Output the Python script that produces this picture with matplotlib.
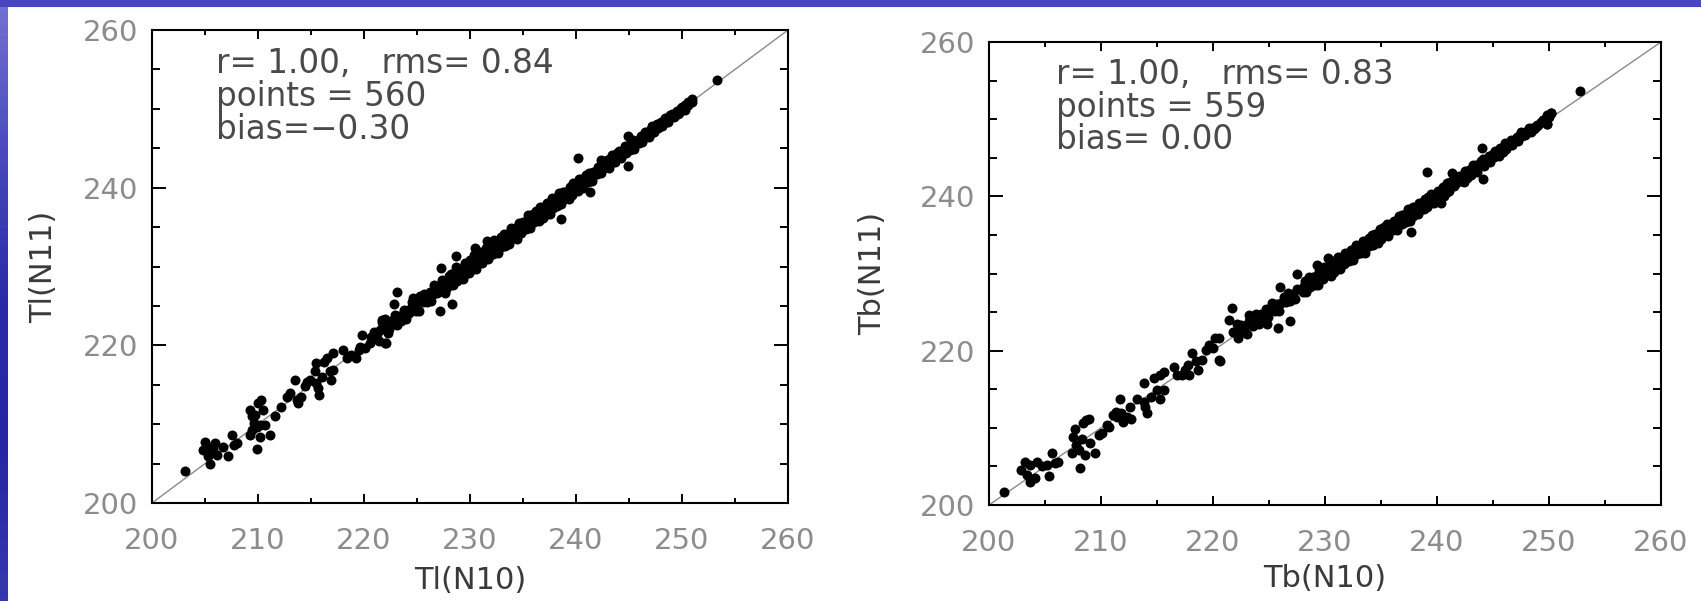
import numpy as np
import matplotlib.pyplot as plt
from matplotlib.ticker import MultipleLocator
from matplotlib.colors import LinearSegmentedColormap

# Datos (pares N10, N11)

# Panel izquierdo: Tl
tl_dispersos = [
    (203.1, 204.0), (205.0, 207.8), (204.8, 206.7), (205.3, 205.9), (205.5, 205.0), (205.9, 207.6),
    (206.1, 206.1), (206.7, 207.1), (207.2, 205.9), (207.5, 208.6), (207.7, 207.4), (208.0, 207.6),
    (205.8, 206.9), (205.2, 207.1),
    (209.2, 211.8), (209.4, 211.0), (209.6, 210.1), (209.7, 211.2), (210.0, 212.7), (210.3, 213.1),
    (209.9, 209.7), (210.2, 209.9), (210.7, 209.9), (209.9, 206.9), (210.2, 208.4), (211.1, 208.6),
    (209.2, 208.6), (211.6, 211.0), (210.5, 211.8), (209.4, 209.3),
    (212.2, 212.2), (212.7, 213.5), (213.0, 213.9), (213.5, 215.6), (213.7, 213.1), (213.8, 212.7),
    (214.1, 213.5), (214.6, 215.4), (214.9, 215.6), (214.4, 214.8), (215.5, 215.2), (215.7, 214.6),
    (215.8, 213.7), (215.4, 216.7), (216.0, 216.0), (215.5, 217.7), (216.2, 217.9), (216.8, 216.7),
    (217.1, 216.9), (216.9, 215.6), (216.5, 218.4), (217.1, 219.0), (218.0, 219.4),
    (218.4, 218.4), (218.8, 218.8), (219.2, 218.4), (219.5, 219.4), (219.6, 219.8), (219.8, 221.3),
    (220.1, 219.6), (220.6, 220.3), (220.7, 221.1), (220.9, 221.7), (221.2, 221.5), (221.5, 222.0),
    (221.4, 220.5), (221.8, 222.4), (222.1, 220.3), (221.7, 223.2), (222.0, 223.4),
]

tl_banda = [
    (222.2, 222.8), (222.4, 222.1), (222.6, 222.8), (222.9, 223.8), (223.1, 222.6), (223.3, 223.7),
    (223.6, 223.6), (223.8, 224.5), (224.0, 223.4), (224.3, 224.6), (224.5, 225.5), (224.7, 224.5),
    (225.0, 225.5), (225.2, 224.4), (225.5, 225.6), (225.7, 226.5), (225.9, 225.5), (226.2, 226.8),
    (226.4, 226.4), (226.6, 227.7), (226.9, 226.6), (227.1, 227.5), (227.4, 228.3), (227.7, 227.2),
    (222.3, 221.6), (222.7, 223.2), (223.0, 223.1), (223.5, 223.1), (223.9, 224.2), (224.2, 224.1),
    (224.6, 225.3), (224.9, 224.4), (225.3, 226.2), (225.6, 225.5), (226.0, 226.3), (226.3, 225.6),
    (226.7, 227.2), (227.0, 226.8), (227.3, 227.5), (227.5, 228.2), (227.8, 228.1), (227.9, 227.7),
    (228.0, 228.8), (227.6, 226.7),
    (228.0, 228.5), (228.1, 227.7), (228.2, 229.1), (228.3, 228.3), (228.4, 227.6), (228.5, 228.8),
    (228.5, 229.2), (228.6, 228.4), (228.7, 229.9), (228.8, 228.2), (228.9, 229.1), (228.9, 229.7),
    (229.0, 228.7), (229.1, 229.7), (229.2, 229.3), (229.3, 228.4), (229.4, 229.8), (229.5, 230.5),
    (229.5, 229.0), (229.6, 229.8), (229.7, 230.4), (229.8, 229.7), (229.9, 230.4), (229.9, 229.2),
    (230.0, 230.8), (230.1, 229.9), (230.2, 230.5), (230.3, 229.7), (230.4, 231.5), (230.5, 230.5),
    (230.5, 231.0), (230.6, 229.7), (230.7, 230.9), (230.8, 231.4), (230.9, 230.5), (230.9, 231.8),
    (231.0, 231.1), (231.1, 230.4), (231.2, 231.8), (231.3, 231.6), (231.4, 231.1), (231.5, 232.4),
    (231.5, 231.4), (231.6, 232.0), (231.7, 230.9), (231.8, 232.5), (231.9, 232.1), (231.9, 231.4),
    (232.0, 232.6), (232.1, 232.1), (232.2, 231.6), (232.3, 233.3), (232.4, 232.7), (232.5, 232.3),
    (232.5, 233.2), (232.6, 231.7), (232.7, 233.1), (232.8, 232.9), (232.9, 232.5), (232.9, 233.7),
    (233.0, 232.8), (233.1, 233.6), (233.2, 234.1), (233.3, 232.6), (233.4, 233.6), (233.5, 233.2),
    (233.5, 234.1), (233.6, 233.6), (233.7, 232.9), (233.8, 234.2), (233.9, 234.9), (233.9, 233.8),
    (234.0, 234.3), (234.1, 233.6), (234.2, 234.9), (234.3, 234.4), (234.4, 233.5), (234.5, 235.0),
    (234.5, 234.3), (234.6, 235.5), (234.7, 234.9), (234.8, 234.2), (234.9, 235.5), (234.9, 234.9),
    (235.0, 235.7), (235.1, 235.0), (235.2, 235.6), (235.3, 234.7), (235.4, 235.6), (235.5, 236.5),
    (235.5, 235.1), (235.6, 236.1), (235.7, 234.9), (235.8, 236.1), (235.9, 236.7), (235.9, 235.7),
    (236.0, 235.6), (236.1, 236.3), (236.2, 237.0), (236.3, 236.2), (236.4, 236.9), (236.5, 235.8),
    (236.5, 236.8), (236.6, 237.5), (236.7, 236.4), (236.8, 236.9), (236.9, 237.5), (236.9, 236.1),
    (237.0, 237.4), (237.1, 236.5), (237.2, 237.3), (237.3, 238.1), (237.4, 237.2), (237.5, 238.0),
    (237.5, 236.6), (237.6, 237.9), (237.7, 238.7), (237.8, 237.4), (237.9, 238.1), (237.9, 238.5),
    (238.0, 238.0), (238.1, 238.7), (238.2, 237.7), (238.3, 238.6), (238.4, 239.3), (238.5, 238.3),
    (238.5, 238.9), (238.6, 237.9), (238.7, 238.9), (238.8, 239.5), (238.9, 238.6), (238.9, 239.0),
    (239.0, 239.5), (239.1, 238.8), (239.2, 239.4), (239.3, 238.5), (239.4, 240.1), (239.5, 239.5),
    (239.5, 239.9), (239.6, 239.1), (239.7, 240.6), (239.8, 239.9), (239.9, 239.7), (239.9, 240.5),
    (240.0, 239.9), (240.1, 240.5), (240.2, 239.6), (240.3, 241.1), (240.4, 240.6), (240.5, 240.2),
    (240.5, 241.1), (240.6, 240.6), (240.7, 240.0), (240.8, 241.1), (240.9, 241.6), (240.9, 240.7),
    (241.0, 241.3), (241.1, 240.7), (241.2, 241.8), (241.4, 241.4), (241.5, 240.9), (241.6, 242.0),
    (241.7, 241.8), (241.9, 241.7),
    (242.0, 241.7), (242.1, 242.6), (242.2, 242.3), (242.4, 241.9), (242.5, 243.2), (242.6, 242.5),
    (242.7, 243.0), (242.9, 243.5),
    (243.0, 243.2), (243.1, 242.5), (243.2, 243.6), (243.4, 244.2), (243.5, 243.3), (243.6, 243.7),
    (243.7, 243.3), (243.9, 244.4),
    (244.0, 243.9), (244.1, 244.7), (244.2, 243.7), (244.4, 244.7), (244.5, 244.5), (244.6, 245.3),
    (244.7, 244.4), (244.9, 245.1),
    (245.0, 245.4), (245.1, 244.8), (245.2, 245.3), (245.4, 246.1), (245.5, 244.9), (245.6, 245.9),
    (245.7, 245.7), (245.9, 245.7),
    (246.0, 246.1), (246.1, 246.6), (246.2, 245.8), (246.4, 246.6), (246.5, 247.1), (246.6, 246.4),
    (246.7, 247.1), (246.9, 246.4),
    (247.0, 246.8), (247.1, 247.4), (247.2, 247.8), (247.4, 247.0), (247.5, 247.6), (247.6, 248.1),
    (247.7, 247.6), (247.9, 248.1),
    (248.0, 248.3), (248.1, 247.8), (248.2, 248.3), (248.4, 248.9), (248.5, 248.3), (248.6, 248.8),
    (248.7, 248.3), (248.9, 249.2),
    (249.0, 249.0), (249.1, 249.4), (249.2, 249.0), (249.4, 249.5), (249.5, 249.7), (249.6, 249.3),
    (249.7, 249.7), (249.9, 250.1),
    (250.0, 250.2), (250.3, 250.5), (250.6, 250.9), (250.9, 251.2),
]

tl_aislados = [
    (253.3, 253.7), (244.9, 246.5), (244.9, 242.8), (242.4, 243.5), (240.2, 243.7), (241.3, 239.5),
    (238.6, 236.0), (228.7, 231.3), (227.3, 229.8), (223.1, 226.8), (222.8, 225.3), (228.3, 225.3),
    (227.2, 224.3), (224.6, 226.0), (221.7, 223.0), (222.0, 220.3), (230.5, 232.3), (231.6, 233.2),
    (250.9, 250.9), (250.6, 250.5), (250.3, 249.9), (249.7, 249.5), (249.2, 249.2),
]

# Panel derecho: Tb
tb_dispersos = [
    (201.3, 201.7), (202.9, 204.5), (203.2, 205.6), (203.4, 203.9), (203.7, 203.0), (204.1, 203.5),
    (204.3, 205.6), (203.7, 205.2), (204.7, 205.0), (205.2, 205.2), (205.4, 203.7), (205.6, 206.7),
    (205.9, 205.4), (206.2, 205.6),
    (207.4, 206.7), (207.5, 208.8), (207.7, 209.9), (207.8, 207.8), (208.1, 204.8), (208.0, 207.1),
    (208.3, 208.6), (208.4, 210.6), (208.7, 211.0), (208.9, 211.2), (208.6, 206.5), (209.0, 208.0),
    (209.5, 206.7), (209.8, 209.1), (210.1, 209.3), (210.5, 210.4), (210.7, 210.1),
    (211.1, 211.7), (211.3, 212.1), (211.4, 211.4), (211.7, 213.8), (211.8, 211.9), (212.0, 210.8),
    (212.3, 211.4), (212.7, 211.2), (212.6, 212.7), (213.2, 213.8), (213.8, 215.8), (213.8, 213.4),
    (213.9, 212.7), (214.1, 211.9), (214.5, 214.0), (214.7, 216.4), (215.0, 214.9), (215.3, 216.8),
    (215.6, 217.3), (215.3, 213.8), (215.6, 214.9),
    (216.5, 217.9), (216.8, 216.8), (217.2, 216.8), (217.5, 217.5), (217.8, 218.1), (218.1, 219.7),
    (217.9, 216.8), (218.5, 218.6), (218.7, 217.5), (219.0, 218.8), (219.4, 220.1), (219.6, 220.7),
    (220.0, 220.3), (220.2, 221.6), (220.5, 221.6), (220.5, 218.8), (220.6, 218.6), (221.4, 224.0),
    (221.7, 225.5), (221.8, 222.4), (222.1, 223.5),
]

tb_banda = [
    (222.0, 222.4), (222.2, 221.7), (222.3, 222.4), (222.5, 223.3), (222.7, 222.4), (222.9, 223.2),
    (223.0, 222.2), (223.2, 223.8), (223.4, 223.4), (223.6, 223.2), (223.8, 224.7), (224.0, 224.2),
    (224.1, 223.5), (224.3, 224.8), (224.5, 224.4), (224.7, 225.4), (224.9, 224.4), (225.1, 225.3),
    (225.3, 226.2), (225.5, 225.2), (225.7, 226.1), (225.9, 225.2), (226.1, 226.2), (226.3, 226.9),
    (226.5, 226.3), (226.7, 227.5), (226.9, 226.5), (227.1, 227.4), (227.3, 226.7), (227.5, 228.0),
    (228.0, 227.6), (228.1, 228.4), (228.2, 229.0), (228.3, 227.6), (228.4, 228.5), (228.5, 229.0),
    (228.5, 228.3), (228.6, 229.6), (228.7, 228.2), (228.8, 229.0), (228.9, 229.6), (228.9, 228.8),
    (229.0, 229.6), (229.1, 228.5), (229.2, 229.2), (229.3, 229.7), (229.4, 228.5), (229.5, 230.3),
    (229.5, 229.7), (229.6, 229.3), (229.7, 230.2), (229.8, 229.3), (229.9, 230.0), (229.9, 230.8),
    (230.0, 230.2), (230.1, 230.8), (230.2, 229.8), (230.3, 230.4), (230.4, 230.9), (230.5, 229.7),
    (230.5, 230.8), (230.6, 230.5), (230.7, 231.6), (230.8, 230.2), (230.9, 231.3), (230.9, 230.9),
    (231.0, 230.7), (231.1, 231.5), (231.2, 232.2), (231.3, 230.6), (231.4, 231.6), (231.5, 231.3),
    (231.5, 232.1), (231.6, 231.7), (231.7, 231.2), (231.8, 232.6), (231.9, 231.8), (231.9, 232.2),
    (232.0, 232.5), (232.1, 231.6), (232.2, 232.4), (232.3, 233.0), (232.4, 232.2), (232.5, 232.8),
    (232.5, 231.7), (232.6, 233.2), (232.7, 232.7), (232.8, 233.7), (232.9, 232.5), (232.9, 233.0),
    (233.0, 233.0), (233.1, 233.7), (233.2, 232.6), (233.3, 233.6), (233.4, 234.2), (233.5, 233.2),
    (233.5, 233.6), (233.6, 232.7), (233.7, 234.2), (233.8, 233.7), (233.9, 234.6), (233.9, 233.5),
    (234.0, 234.4), (234.1, 233.9), (234.2, 235.0), (234.3, 233.7), (234.4, 234.5), (234.5, 235.1),
    (234.5, 234.1), (234.6, 234.8), (234.7, 233.9), (234.8, 235.3), (234.9, 234.9), (234.9, 235.8),
    (235.0, 234.5), (235.1, 235.4), (235.2, 235.2), (235.3, 236.0), (235.4, 235.1), (235.5, 235.9),
    (235.5, 236.4), (235.6, 234.9), (235.7, 235.8), (235.8, 236.4), (235.9, 235.7), (235.9, 236.2),
    (236.0, 236.3), (236.1, 235.7), (236.2, 236.8), (236.3, 236.4), (236.4, 235.7), (236.5, 237.0),
    (236.5, 236.5), (236.6, 237.4), (236.7, 236.4), (236.8, 237.0), (236.9, 237.6), (236.9, 236.4),
    (237.0, 237.6), (237.1, 237.1), (237.2, 236.7), (237.3, 237.7), (237.4, 238.3), (237.5, 237.3),
    (237.5, 237.8), (237.6, 236.8), (237.7, 238.2), (237.8, 237.9), (237.9, 237.5), (237.9, 238.6),
    (238.0, 237.8), (238.1, 238.6), (238.2, 238.3), (238.3, 237.7), (238.4, 239.1), (238.5, 238.8),
    (238.5, 238.2), (238.6, 239.2), (238.7, 238.7), (238.8, 238.3), (238.9, 239.3), (238.9, 239.7),
    (239.0, 239.3), (239.1, 238.6), (239.2, 239.9), (239.3, 239.3), (239.4, 239.8), (239.5, 239.2),
    (239.5, 240.3), (239.6, 239.8), (239.7, 239.1), (239.8, 240.3), (239.9, 239.8), (239.9, 240.2),
    (240.0, 240.1), (240.1, 240.7), (240.2, 239.8), (240.3, 240.6), (240.4, 240.3), (240.5, 241.2),
    (240.5, 240.7), (240.6, 240.0), (240.7, 241.2), (240.8, 240.8), (240.9, 241.7), (240.9, 240.6),
    (241.0, 241.2), (241.1, 240.7), (241.2, 241.9), (241.4, 241.5), (241.5, 241.3), (241.6, 242.1),
    (241.7, 241.7), (241.9, 242.3),
    (242.0, 242.6), (242.1, 242.0), (242.2, 242.5), (242.4, 241.9), (242.5, 243.3), (242.6, 242.8),
    (242.7, 242.4), (242.9, 243.4),
    (243.0, 242.8), (243.1, 243.5), (243.2, 244.1), (243.4, 243.4), (243.5, 244.0), (243.6, 243.2),
    (243.7, 244.0), (243.9, 244.6),
    (244.0, 244.3), (244.1, 244.9), (244.2, 243.9), (244.4, 244.9), (244.5, 244.6), (244.6, 245.2),
    (244.7, 244.5), (244.9, 245.3),
    (245.0, 245.5), (245.1, 245.1), (245.2, 245.9), (245.4, 245.6), (245.5, 245.2), (245.6, 246.2),
    (245.7, 246.0), (245.9, 245.8),
    (246.0, 246.4), (246.1, 246.9), (246.2, 246.1), (246.4, 246.9), (246.5, 246.7), (246.6, 247.3),
    (246.7, 246.7), (246.9, 247.3),
    (247.0, 247.3), (247.1, 247.7), (247.2, 247.2), (247.4, 247.9), (247.5, 248.3), (247.6, 247.8),
    (247.7, 248.1), (247.9, 248.0),
    (248.0, 248.5), (248.1, 248.3), (248.2, 248.8), (248.4, 248.3), (248.5, 248.9), (248.6, 248.9),
    (248.7, 248.7), (248.9, 249.3),
    (249.0, 249.3), (249.3, 249.6), (249.5, 249.9), (249.8, 249.4), (250.0, 250.3), (250.2, 250.8),
]

tb_aislados = [
    (252.8, 253.7), (244.0, 246.2), (244.1, 242.2), (239.1, 243.2), (241.3, 243.0), (240.4, 239.1),
    (237.7, 235.4), (227.5, 230.0), (226.0, 228.3), (226.9, 223.9), (225.8, 222.9), (223.2, 224.6),
    (224.8, 223.5), (230.3, 232.0), (229.3, 231.1),
    (250.2, 250.8), (249.8, 250.5), (249.5, 249.9), (249.8, 249.4), (248.8, 249.0),
]

textos_tl = ['r= 1.00,   rms= 0.84', 'points = 560', 'bias=\u22120.30']
textos_tb = ['r= 1.00,   rms= 0.83', 'points = 559', 'bias= 0.00']

# Figura con los bordes azules de la diapositiva
fig = plt.figure(figsize=(17.01, 6.01), dpi=100, facecolor='white')

borde = LinearSegmentedColormap.from_list(
    'borde', ['#3636ac', '#2626a4', '#2a2aa8', '#4a4abc', '#7272d2'])
ax_izq = fig.add_axes([0, 0, 7 / 1701, 1])
ax_izq.imshow(np.linspace(0, 1, 100).reshape(-1, 1), cmap=borde,
              aspect='auto', origin='lower', extent=[0, 1, 0, 1])
ax_izq.set_axis_off()
ax_sup = fig.add_axes([0, 594 / 601, 1, 7 / 601])
ax_sup.set_facecolor('#4846bc')
ax_sup.set_xticks([])
ax_sup.set_yticks([])
for s in ax_sup.spines.values():
    s.set_visible(False)


def dibujar_panel(ax, puntos, variable, textos, label_x, label_y):
    x, y = np.array(puntos).T

    # recta 1:1
    ax.plot([200, 260], [200, 260], color='#8a8a8a', linewidth=1.0, zorder=1)
    ax.plot(x, y, 'o', color='black', markersize=7.2, markeredgewidth=0, zorder=2)

    ax.set_xlim(200, 260)
    ax.set_ylim(200, 260)
    ax.xaxis.set_major_locator(MultipleLocator(10))
    ax.xaxis.set_minor_locator(MultipleLocator(5))
    ax.yaxis.set_major_locator(MultipleLocator(20))
    ax.yaxis.set_minor_locator(MultipleLocator(5))

    ax.tick_params(which='both', direction='in', top=True, right=True,
                   width=1.4, color='black', labelsize=21, labelcolor='#8c8c8c')
    ax.tick_params(axis='x', which='major', length=6.5, pad=17)
    ax.tick_params(axis='x', which='minor', length=3.6)
    ax.tick_params(axis='y', which='major', length=10, pad=10)
    ax.tick_params(axis='y', which='minor', length=5.8)
    for s in ax.spines.values():
        s.set_linewidth(1.5)

    ax.set_xlabel(f'{variable}(N10)', fontsize=22, color='#3a3a3a')
    ax.set_ylabel(f'{variable}(N11)', fontsize=22, color='#3a3a3a')
    ax.xaxis.set_label_coords(0.5, label_x)
    ax.xaxis.label.set_va('center')
    ax.yaxis.set_label_coords(label_y, 0.5)
    ax.yaxis.label.set_va('center')

    for texto, yy in zip(textos, [0.930, 0.859, 0.789]):
        ax.text(0.100, yy, texto, transform=ax.transAxes, fontsize=23.5,
                color='#4a4a4a', ha='left', va='center')


ax1 = fig.add_axes([152 / 1701, 98 / 601, 636 / 1701, 473 / 601])
dibujar_panel(ax1, tl_dispersos + tl_banda + tl_aislados, 'Tl', textos_tl, -0.163, -0.171)

ax2 = fig.add_axes([989 / 1701, 96 / 601, 672 / 1701, 463 / 601])
dibujar_panel(ax2, tb_dispersos + tb_banda + tb_aislados, 'Tb', textos_tb, -0.158, -0.173)

fig.savefig('out.png', dpi=100, facecolor='white')
